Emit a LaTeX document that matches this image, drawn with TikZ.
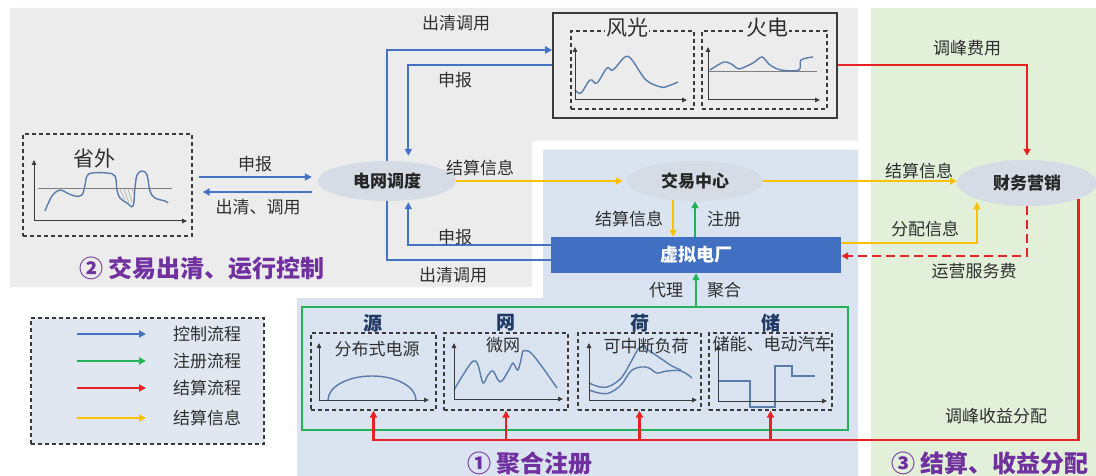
\documentclass[tikz,border=0pt]{standalone}
\usepackage{fontspec}
\setmainfont{Noto Sans CJK SC}
\usetikzlibrary{arrows.meta,shapes.geometric,calc}
\definecolor{cgray}{HTML}{ECECEC}
\definecolor{cbg}{HTML}{DAE3F0}
\definecolor{cgreenbg}{HTML}{E2EFD9}
\definecolor{cblue}{HTML}{4472C4}
\definecolor{cgrn}{HTML}{22B35A}
\definecolor{cred}{HTML}{E82222}
\definecolor{cyel}{HTML}{FFC000}
\definecolor{cell}{HTML}{D6DCE5}
\definecolor{ctext}{HTML}{2E2E2E}
\definecolor{cdark}{HTML}{3A3A3A}
\definecolor{cnavy}{HTML}{1F3864}
\definecolor{cpurple}{HTML}{7030A0}
\definecolor{cvpp}{HTML}{4170C2}
\definecolor{ccurve}{HTML}{5A7CAA}
\definecolor{clegend}{HTML}{E1E7F0}
\begin{document}
\begin{tikzpicture}[x=1pt,y=-1pt,
  lbl/.style={font=\fontsize{17}{19}\selectfont, text=ctext, inner sep=0pt},
  big/.style={font=\fontsize{21}{23}\selectfont, text=ctext, inner sep=1pt},
  hdr/.style={font=\fontsize{19}{21}\selectfont\bfseries, text=cnavy, inner sep=0pt},
  ttl/.style={font=\fontsize{24}{26}\selectfont\bfseries, text=cpurple, inner sep=0pt},
  el/.style={ellipse, fill=cell, inner sep=0pt, font=\fontsize{17}{19}\selectfont\bfseries, text=black!85},
  dbox/.style={draw=cdark, line width=1.3pt, dash pattern=on 4pt off 3pt, inner sep=0pt},
  arr/.style={-{Triangle[length=7pt,width=7pt]}},
  bl/.style={draw=cblue, line width=2.3pt},
  gr/.style={draw=cgrn, line width=2.3pt},
  rd/.style={draw=cred, line width=2.8pt},
  yl/.style={draw=cyel, line width=2.3pt},
  ax/.style={draw=cdark, line width=1pt, -{Triangle[length=5pt,width=4.5pt]}},
  cv/.style={draw=ccurve, line width=1.4pt},
  hl/.style={draw=gray, line width=0.9pt}]
\useasboundingbox (0,0) rectangle (1096,476);
\fill[white] (0,0) rectangle (1096,476);
% background regions
\fill[cgray] (10,8) -- (858,8) -- (858,141) -- (532,141) -- (532,287) -- (10,287) -- cycle;
\fill[cbg] (543,150) -- (858,150) -- (858,476) -- (297,476) -- (297,298) -- (543,298) -- cycle;
\fill[cgreenbg] (871,8) rectangle (1096,476);

% ---------- nodes ----------
\node[draw=cdark, line width=1.6pt, fill=cgray, minimum width=284pt, minimum height=105pt, inner sep=0pt] (tb) at (695,65.5) {};
\node[dbox, minimum width=123pt, minimum height=78pt] (wg) at (632.5,70) {};
\node[dbox, minimum width=125pt, minimum height=78pt] (hd) at (764.5,70) {};
\node[big, fill=cgray] (wgl) at (627,28) {风光};
\node[big, fill=cgray] (hdl) at (767,28) {火电};

\node[dbox, minimum width=169pt, minimum height=102pt] (sw) at (107.5,185) {};
\node[big] (swl) at (94,158) {省外};

\node[el, minimum width=138pt, minimum height=40pt] (dd) at (387,181) {电网调度};
\node[el, minimum width=136pt, minimum height=40pt] (jy) at (695,181) {交易中心};
\node[el, minimum width=140pt, minimum height=46pt] (cw) at (1027,183) {财务营销};
\node[fill=cvpp, minimum width=290pt, minimum height=36pt, inner sep=0pt, text=white, font=\fontsize{18}{20}\selectfont\bfseries] (vpp) at (696,255) {虚拟电厂};

\node[draw=cgrn, line width=1.8pt, minimum width=546pt, minimum height=123pt, inner sep=0pt] (gb) at (575,368.5) {};
\node[dbox, minimum width=125pt, minimum height=77pt] (s1) at (373.5,371.5) {};
\node[dbox, minimum width=124pt, minimum height=77pt] (s2) at (506,371.5) {};
\node[dbox, minimum width=123pt, minimum height=77pt] (s3) at (639.5,371.5) {};
\node[dbox, minimum width=123pt, minimum height=77pt] (s4) at (770.5,371.5) {};
\node[hdr] (h1) at (373,323) {源};
\node[hdr] (h2) at (506,323) {网};
\node[hdr] (h3) at (640,323) {荷};
\node[hdr] (h4) at (771,323) {储};

% legend
\node[draw=cdark, line width=1.2pt, dash pattern=on 4pt off 3pt, fill=clegend, minimum width=233pt, minimum height=126pt, inner sep=0pt] (lg) at (147.5,381) {};

% ---------- charts ----------
% 省外
\draw[hl] (38,188) -- (172,188);
\draw[gray!70, line width=0.5pt] (120,189)--(125,200) (124,189)--(129,203) (128,189)--(132,202) (132,189)--(134.5,195);
\draw[cv] plot[smooth, tension=0.6] coordinates {(45,211) (52,196) (60,190) (67,193) (75,196) (82,195) (85,185) (87,176) (92,173) (107,173) (115,176) (117,190) (120,198) (127,203) (133,206) (135,188) (137,175) (142,171) (147,175) (150,191) (155,198) (165,201) (168,203)};
\draw[ax] (34,221) -- (34,160);
\draw[ax] (34,221) -- (187,221);
% 风光
\draw[cv] plot[smooth, tension=0.6] coordinates {(575,90) (581,93) (590,80) (597,83) (607,68) (613,70) (625,57) (632,60) (646,80) (661,87) (668,86) (678,82)};
\draw[ax] (575,100) -- (575,47);
\draw[ax] (575,100) -- (687,100);
% 火电
\draw[hl] (708,71) -- (817,71);
\draw[cv] plot[smooth, tension=0.5] coordinates {(710,70) (724,62) (733,65) (739,69) (753,63) (762,57) (770,65) (781,70) (799,70) (801,60) (813,57)};
\draw[ax] (708,100) -- (708,47);
\draw[ax] (708,100) -- (820,100);
% 源
\draw[cv] (328,400) arc[start angle=180, end angle=0, x radius=44, y radius=-24];
\draw[ax] (319,400) -- (319,343);
\draw[ax] (319,400) -- (429,400);
% 网
\draw[cv] plot[smooth, tension=0.55] coordinates {(454,390) (463,375) (473,361) (478,365) (483,383) (488,375) (493,371) (498,380) (502,381) (510,368) (513,363) (518,370) (522,355) (523,351) (528,351) (533,355) (543,368) (557,388)};
\draw[ax] (454,399) -- (454,343);
\draw[ax] (454,399) -- (563,399);
% 荷
\draw[cv] plot[smooth, tension=0.6] coordinates {(589,383) (600,387) (610,386) (622,377) (632,360) (640,347) (648,350) (660,358) (672,366) (681,370)};
\draw[cv] plot[smooth, tension=0.6] coordinates {(589,390) (599,393) (609,393) (621,385) (631,371) (641,367) (649,368) (657,373) (667,371) (681,371) (692,378)};
\draw[ax] (589,400) -- (589,343);
\draw[ax] (589,400) -- (697,400);
% 储
\draw[cv] (718,381) -- (750,381) -- (750,407) -- (775,407) -- (775,366) -- (792,366) -- (792,376) -- (815,376);
\draw[ax] (718,401) -- (718,345);
\draw[ax] (718,401) -- (827,401);

% sub labels
\node[lbl] (l1) at (377,349) {分布式电源};
\node[lbl] (l2) at (503,345) {微网};
\node[lbl] (l3) at (646,346) {可中断负荷};
\node[lbl] (l4) at (772,344) {储能、电动汽车};

% ---------- connectors ----------
% blue
\draw[bl,arr] ([xshift=6pt]sw.east |- 0,177) -- ([xshift=-6pt]dd.west |- 0,177);
\draw[bl,arr] ([xshift=-6pt]dd.west |- 0,192) -- ([xshift=10pt]sw.east |- 0,192);
\draw[bl,arr] (dd.north) |- (tb.west |- 0,50);
\draw[bl,arr,shorten >=6pt] (tb.west |- 0,65) -| (dd.42);
\draw[bl,arr,shorten >=2pt] (vpp.west |- 0,245) -| (dd.-42);
\draw[bl] (dd.south) |- (vpp.west |- 0,260);
% yellow
\draw[yl,arr,shorten >=4pt] (dd.east) -- (jy.west);
\draw[yl,arr] (jy.east) -- (jy.east -| cw.west);
\draw[yl,arr] (jy.221) -- (jy.221 |- vpp.north);
\draw[yl,arr,shorten >=3pt] (vpp.east |- 0,243) -| (cw.198.5);
% green
\draw[gr,arr] (vpp.north -| jy.south) -- (jy.south);
\draw[gr,arr] (gb.north -| vpp.south) -- (vpp.south);
% red
\draw[rd,arr,shorten >=4pt] (tb.east |- 0,65) -| (cw.north);
\draw[rd,arr,dash pattern=on 9pt off 5pt] (cw.south) |- (vpp.east |- 0,256);
\draw[rd,arr] (cw.-17.8) |- (s1.south |- 0,440) -- (s1.south);
\draw[rd,arr] (s2.south |- 0,440) -- (s2.south);
\draw[rd,arr] (s3.south |- 0,440) -- (s3.south);
\draw[rd,arr] (s4.south |- 0,440) -- (s4.south);

% ---------- labels ----------
\node[lbl] (t1) at (255,164) {申报};
\node[lbl] (t2) at (258,207) {出清、调用};
\node[lbl] (t3) at (456,23) {出清调用};
\node[lbl] (t4) at (455,80) {申报};
\node[lbl] (t5) at (480,168) {结算信息};
\node[lbl] (t6) at (455,237) {申报};
\node[lbl] (t7) at (453,275) {出清调用};
\node[lbl] (t8) at (967,48) {调峰费用};
\node[lbl] (t9) at (919,171) {结算信息};
\node[lbl] (t10) at (925,229) {分配信息};
\node[lbl] (t11) at (974,271) {运营服务费};
\node[lbl] (t12) at (996,416) {调峰收益分配};
\node[lbl] (t13) at (629,219) {结算信息};
\node[lbl] (t14) at (724,219) {注册};
\node[lbl] (t15) at (666,290) {代理};
\node[lbl] (t16) at (724,290) {聚合};

% titles
\node[ttl] (T2) at (202,268) {② 交易出清、运行控制};
\node[ttl] (T1) at (530,463) {① 聚合注册};
\node[ttl] (T3) at (990,463) {③ 结算、收益分配};

% legend content
\node[lbl] (g1) at (207,334) {控制流程};
\node[lbl] (g2) at (207,361) {注册流程};
\node[lbl] (g3) at (207,388) {结算流程};
\node[lbl] (g4) at (207,418) {结算信息};
\draw[draw=cblue, line width=2.5pt, arr] ([xshift=-130pt]g1.center) -- ([xshift=-61pt]g1.center);
\draw[draw=cgrn, line width=2.5pt, arr] ([xshift=-130pt]g2.center) -- ([xshift=-61pt]g2.center);
\draw[draw=cred, line width=2.5pt, arr] ([xshift=-130pt]g3.center) -- ([xshift=-61pt]g3.center);
\draw[draw=cyel, line width=2.5pt, arr] ([xshift=-130pt]g4.center) -- ([xshift=-61pt]g4.center);
\end{tikzpicture}
\end{document}
